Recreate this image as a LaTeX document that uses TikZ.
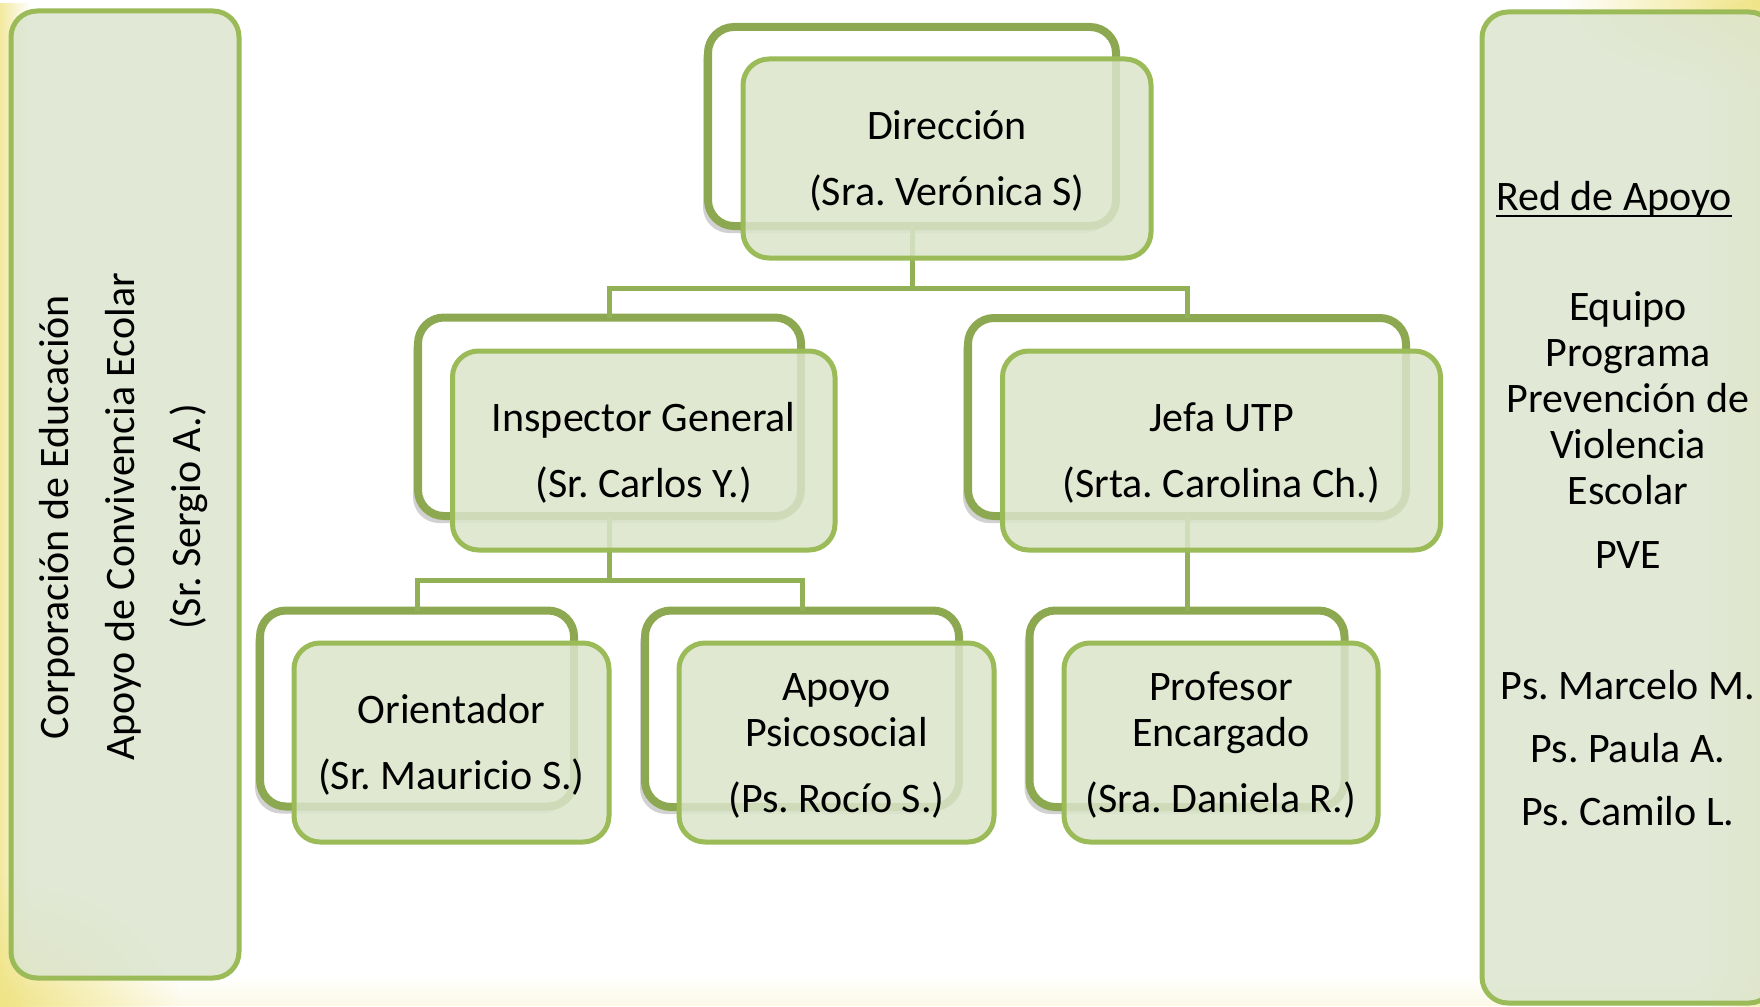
\documentclass[tikz,border=0pt]{standalone}
\usepackage{fontspec}
\setmainfont{Carlito}
\usetikzlibrary{shadows,fadings}
\definecolor{backline}{RGB}{140,168,80}
\definecolor{frontline}{RGB}{155,187,89}
\definecolor{frontfill}{RGB}{219,229,203}
\definecolor{sidefill}{RGB}{220,229,207}
\definecolor{connc}{RGB}{146,176,86}
\definecolor{glowc}{RGB}{240,228,135}
\tikzfading[name=leftfade, left color=transparent!0, right color=transparent!100]
\tikzfading[name=rightfade, left color=transparent!100, right color=transparent!0]
\tikzfading[name=bottomfade, top color=transparent!100, bottom color=transparent!0]
\tikzfading[name=glowfade, inner color=transparent!0, outer color=transparent!100]
\newcommand\tstrut{\rule{0pt}{34pt}}
\newcommand\bstrut{\rule[-7pt]{0pt}{7pt}}
\begin{document}
\frenchspacing
\begin{tikzpicture}[x=1pt,y=-1pt,
  every node/.style={inner sep=0pt, outer sep=0pt},
  txt/.style={font=\fontsize{42}{46}\selectfont, align=center, text=black},
  rtxt/.style={font=\fontsize{42}{46}\selectfont, text=black, anchor=base},
  backbox/.style={draw=backline, line width=8pt, fill=white, rounded corners=26pt,
    drop shadow={shadow xshift=-5pt, shadow yshift=-7pt, opacity=0.18, fill=black}},
  frontbox/.style={txt, draw=frontline, line width=5pt, fill=frontfill, fill opacity=0.85,
    text opacity=1, rounded corners=26pt},
  sidebox/.style={draw=frontline, line width=5pt, fill=sidefill, fill opacity=0.85, rounded corners=26pt},
  conn/.style={draw=connc, line width=5pt},
]
\useasboundingbox (0,0) rectangle (1760,1006);
\clip (0,0) rectangle (1760,1006);
\fill[white] (0,0) rectangle (1760,1006);
% background glow
\fill[glowc, path fading=leftfade, fill opacity=0.8] (0,0) rectangle (30,1006);
\fill[glowc, path fading=rightfade, fill opacity=0.5] (1700,0) rectangle (1760,1006);
\fill[glowc, path fading=bottomfade, fill opacity=0.2] (0,975) rectangle (1760,1006);
\fill[glowc, path fading=glowfade] (0,1006) ellipse [x radius=180, y radius=130];
\fill[glowc, path fading=glowfade] (1760,0) ellipse [x radius=200, y radius=90];

% side boxes
\node[sidebox, minimum width=228pt, minimum height=967pt] (leftB) at (125,494.5) {};
\node[txt, rotate=90] (leftT) at (121,517)
  {\tstrut Corporación de Educación\\[20pt]Apoyo de Convivencia Ecolar\\[20pt](Sr. Sergio A.)\bstrut};
\node[sidebox, minimum width=293pt, minimum height=991pt] (rightB) at (1628.5,507.5) {};
\node[rtxt] (red) at (1614,210) {Red de Apoyo};
\draw[line width=2.4pt] ([yshift=-6pt]red.base west) -- ([yshift=-6pt]red.base east);
\node[rtxt] (r1) at (1628,320) {Equipo};
\node[rtxt] (r2) at (1628,366) {Programa};
\node[rtxt] (r3) at (1628,412) {Prevención de};
\node[rtxt] (r4) at (1628,458) {Violencia};
\node[rtxt] (r5) at (1628,504) {Escolar};
\node[rtxt] (r6) at (1628,568) {PVE};
\node[rtxt] (r7) at (1628,699) {Ps. Marcelo M.};
\node[rtxt] (r8) at (1628,762) {Ps. Paula A.};
\node[rtxt] (r9) at (1628,825) {Ps. Camilo L.};

% back boxes
\node[backbox, minimum width=408pt, minimum height=199pt] (dirB) at (912,126.5) {};
\node[backbox, minimum width=383pt, minimum height=198.5pt] (insB) at (609.5,416.75) {};
\node[backbox, minimum width=438pt, minimum height=198pt] (jefB) at (1187,417) {};
\node[backbox, minimum width=314pt, minimum height=196pt] (oriB) at (417,708.5) {};
\node[backbox, minimum width=314pt, minimum height=196.5pt] (apoB) at (802,708.75) {};
\node[backbox, minimum width=315pt, minimum height=196.5pt] (proB) at (1187,708.75) {};

% connectors
\draw[conn] (dirB.south) -- (dirB.south |- 0,288);
\draw[conn] (insB.north) |- (dirB.south |- 0,288) -| (jefB.north);
\draw[conn] (insB.south) -- (insB.south |- 0,580);
\draw[conn] (oriB.north) |- (insB.south |- 0,580) -| (apoB.north);
\draw[conn] (jefB.south) -- (proB.north);

% front boxes
\node[frontbox, minimum width=408pt, minimum height=199pt] (dirF) at (947,158.5)
  {\tstrut Dirección\\[20pt](Sra. Verónica S)\bstrut};
\node[frontbox, minimum width=382.5pt, minimum height=199pt] (insF) at (643.75,450.5)
  {\tstrut Inspector General\\[20pt](Sr. Carlos Y.)\bstrut};
\node[frontbox, minimum width=438pt, minimum height=199pt] (jefF) at (1221.5,450.5)
  {\tstrut Jefa UTP\\[20pt](Srta. Carolina Ch.)\bstrut};
\node[frontbox, minimum width=315pt, minimum height=199pt] (oriF) at (451.5,742.5)
  {\tstrut Orientador\\[20pt](Sr. Mauricio S.)\bstrut};
\node[frontbox, minimum width=315pt, minimum height=199pt] (apoF) at (836.5,742.5)
  {\tstrut Apoyo\\Psicosocial\\[20pt](Ps. Rocío S.)\bstrut};
\node[frontbox, minimum width=314pt, minimum height=199pt] (proF) at (1221,742.5)
  {\tstrut Profesor\\Encargado\\[20pt](Sra. Daniela R.)\bstrut};
\end{tikzpicture}
\end{document}
